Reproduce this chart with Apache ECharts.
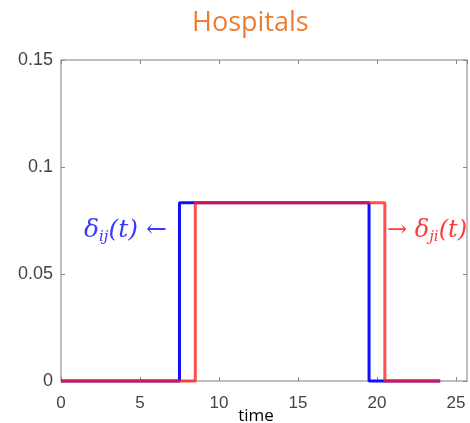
<!DOCTYPE html>
<html>
<head>
<meta charset="utf-8">
<script src="https://cdn.jsdelivr.net/npm/echarts@6/dist/echarts.min.js"></script>
<style>
  html, body { margin: 0; padding: 0; background: #fff; }
  #main { width: 470px; height: 423px; }
</style>
</head>
<body>
<div id="main"></div>
<script>
// step corners: value holds from this time until the next one
var blueTimes = [0, 7.5, 19.5, 24];
var blueValues = [0, 1 / 12, 0, 0];
var redTimes = [0, 8.5, 20.5, 24];
var redValues = [0, 1 / 12, 0, 0];
var xTicks = [0, 5, 10, 15, 20, 25];
var yTicks = [0, 0.05, 0.1, 0.15];

function pairs(xs, ys) {
    var temp = [];
    xs.map(function (x, i) {
        temp.push([x, ys[i]]);
    });
    return temp;
}

var axisGrey = '#aaaaaa';
var labelFont = 'Liberation Sans';

function frameAxis(extra) {
    var a = {
        type: 'value',
        axisLine: { show: true, onZero: false, lineStyle: { color: axisGrey, width: 1.5 } },
        axisTick: { show: true, inside: true, length: 4, lineStyle: { color: '#888' } },
        splitLine: { show: false }
    };
    for (var k in extra) a[k] = extra[k];
    return a;
}

var myChart = echarts.init(document.getElementById('main'));
var option = {
    animation: false,
    title: {
        text: 'Hospitals',
        left: 187,
        top: 5,
        textStyle: {
            color: '#ED7D31',
            fontFamily: 'Open Sans',
            fontWeight: 'normal',
            fontSize: 27
        }
    },
    grid: { left: 61, right: 3, top: 60, bottom: 42, outerBoundsMode: 'none', containLabel: false },
    xAxis: [frameAxis({
        min: 0,
        max: 25.7,
        interval: 5,
        position: 'bottom',
        name: 'time',
        nameLocation: 'middle',
        nameGap: 27,
        nameMoveOverlap: false,
        nameTextStyle: { color: '#000', fontFamily: 'Open Sans', fontSize: 17, padding: [0, 16, 0, 0] },
        axisLabel: {
            showMaxLabel: false,
            margin: 14,
            color: '#444',
            fontFamily: labelFont,
            fontSize: 17,
            formatter: function (v) { return xTicks.indexOf(v) >= 0 ? String(v) : ''; }
        }
    }), frameAxis({
        position: 'top',
        min: 0,
        max: 25.7,
        interval: 5,
        axisLabel: { show: false }
    })],
    yAxis: [frameAxis({
        min: 0,
        max: 0.15,
        interval: 0.05,
        position: 'left',
        axisLabel: {
            margin: 8,
            color: '#444',
            fontFamily: labelFont,
            fontSize: 18,
            formatter: function (v) {
                var t = yTicks.filter(function (k) { return Math.abs(k - v) < 1e-9; });
                return t.length ? String(t[0]) : '';
            }
        }
    }), frameAxis({
        position: 'right',
        min: 0,
        max: 0.15,
        interval: 0.05,
        axisLabel: { show: false }
    })],
    series: [{
        name: 'delta_ij',
        type: 'line',
        step: 'end',
        clip: false,
        showSymbol: false,
        data: pairs(blueTimes, blueValues),
        lineStyle: { color: '#1010ff', width: 3 }
    }, {
        name: 'delta_ji',
        type: 'line',
        step: 'end',
        clip: false,
        showSymbol: false,
        data: pairs(redTimes, redValues),
        lineStyle: { color: 'rgba(255,30,30,0.78)', width: 3 }
    }],
    graphic: [{
        type: 'text',
        left: 84,
        top: 216,
        style: {
            text: '{d|δ}{s|ij}{d|(t) ←}',
            fill: '#3a3aff',
            rich: {
                d: { fontFamily: 'DejaVu Serif', fontStyle: 'italic', fontSize: 25, lineHeight: 30, fill: '#3a3aff' },
                s: { fontFamily: 'DejaVu Serif', fontStyle: 'italic', fontSize: 15, lineHeight: 30, padding: [14, 0, 0, 0], fill: '#3a3aff' }
            }
        }
    }, {
        type: 'text',
        left: 387,
        top: 216,
        style: {
            text: '{d|→ δ}{s|ji}{d|(t)}',
            fill: '#ff3a3a',
            rich: {
                d: { fontFamily: 'DejaVu Serif', fontStyle: 'italic', fontSize: 24, lineHeight: 30, fill: '#ff3a3a' },
                s: { fontFamily: 'DejaVu Serif', fontStyle: 'italic', fontSize: 15, lineHeight: 30, padding: [14, 0, 0, 0], fill: '#ff3a3a' }
            }
        }
    }]
};

myChart.setOption(option);
</script>
</body>
</html>
